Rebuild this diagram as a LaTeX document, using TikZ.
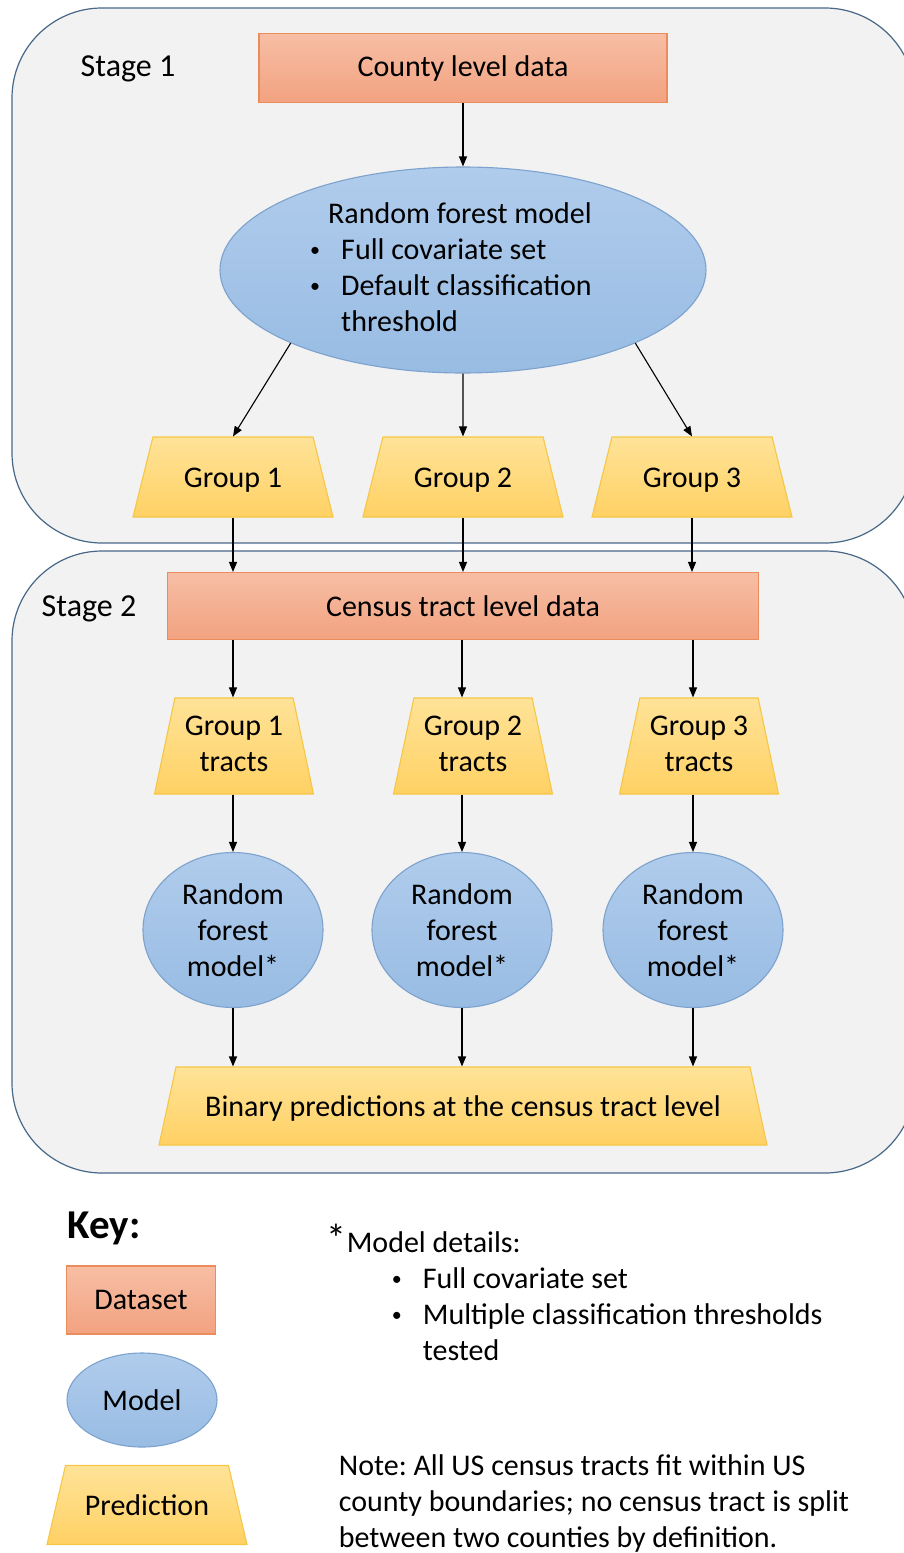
\documentclass[tikz,border=0pt]{standalone}
\usepackage{fontspec}
\setmainfont{Carlito}
\usetikzlibrary{shapes.geometric,arrows.meta,positioning}
\definecolor{stageline}{RGB}{72,104,136}
\definecolor{stagefill}{RGB}{242,242,242}
\definecolor{dataline}{RGB}{236,140,92}
\definecolor{datatop}{RGB}{247,190,165}
\definecolor{databot}{RGB}{242,162,128}
\definecolor{modelline}{RGB}{125,162,205}
\definecolor{modeltop}{RGB}{176,204,236}
\definecolor{modelbot}{RGB}{152,188,227}
\definecolor{predline}{RGB}{246,198,70}
\definecolor{predtop}{RGB}{255,227,152}
\definecolor{predbot}{RGB}{255,209,100}
\newcommand{\smalldot}{\raisebox{3pt}{\fontsize{20}{20}\selectfont\textbullet}}
\tikzset{>={Triangle[length=10pt,width=8pt]}}
\tikzset{
  stagebox/.style={draw=stageline,fill=stagefill,line width=1.2pt,rounded corners=90pt},
  dataset/.style={draw=dataline,top color=datatop,bottom color=databot,inner sep=0pt},
  model/.style={ellipse,draw=modelline,top color=modeltop,bottom color=modelbot,inner sep=0pt},
  predict/.style={trapezium,trapezium stretches body,trapezium left angle=#1,trapezium right angle=#1,draw=predline,top color=predtop,bottom color=predbot,inner xsep=0pt},
  predict/.default=76,
  oneline/.style={text height=20pt,text depth=0pt},
}

\begin{document}
\begin{tikzpicture}[x=1pt,y=-1pt,font=\fontsize{30}{36}\selectfont\frenchspacing,align=center,line width=1.1pt]
\useasboundingbox (0,0) rectangle (904,1553);
\begin{scope}
\clip (0,0) rectangle (904,1553);
\draw[stagebox] (12,8) rectangle (915,543);
\draw[stagebox] (12,551) rectangle (915,1173);
\end{scope}
\node[font=\fontsize{32}{36}\selectfont] (s1) at (128,69) {Stage 1};
\node[font=\fontsize{32}{36}\selectfont] (s2) at (89,609) {Stage 2};
\node[dataset,minimum width=408pt,minimum height=69pt] (county) at (463,68) {County level data};
\node[model,minimum width=486pt,minimum height=206pt] (rf) at (463,270) {\begin{tabular}{@{}p{31pt}@{}l@{}}\multicolumn{2}{@{}r@{}}{Random forest model}\\ \smalldot & Full covariate set\\ \smalldot & Default classification\\ & threshold\end{tabular}\hspace{24pt}};
\node[predict,oneline,inner ysep=30pt,minimum width=200pt] (g1) at (233,477) {Group 1};
\node[predict,oneline,inner ysep=30pt,minimum width=200pt] (g2) at (463,477) {Group 2};
\node[predict,oneline,inner ysep=30pt,minimum width=200pt] (g3) at (692,477) {Group 3};
\node[dataset,minimum width=591pt,minimum height=67pt] (tract) at (463,606) {Census tract level data};
\node[predict=78,inner ysep=12pt,minimum width=159pt] (t1) at (234,746) {\begin{tabular}{@{}c@{}}Group 1\\tracts\end{tabular}};
\node[predict=78,inner ysep=12pt,minimum width=159pt] (t2) at (473,746) {\begin{tabular}{@{}c@{}}Group 2\\tracts\end{tabular}};
\node[predict=78,inner ysep=12pt,minimum width=159pt] (t3) at (699,746) {\begin{tabular}{@{}c@{}}Group 3\\tracts\end{tabular}};
\node[model,minimum width=180pt,minimum height=155pt] (m1) at (233,930) {Random\\forest\\model*};
\node[model,minimum width=180pt,minimum height=155pt] (m2) at (462,930) {Random\\forest\\model*};
\node[model,minimum width=180pt,minimum height=155pt] (m3) at (693,930) {Random\\forest\\model*};
\node[predict=77.7,oneline,inner ysep=29pt,minimum width=608pt] (bin) at (463,1106) {Binary predictions at the census tract level};
\draw[->] (county) -- (rf);
\draw[->] (rf.-157) -- (g1.north);
\draw[->] (rf.south) -- (g2.north);
\draw[->] (rf.-23) -- (g3.north);
\draw[->] (g1.south) -- (g1.south |- tract.north);
\draw[->] (g2.south) -- (g2.south |- tract.north);
\draw[->] (g3.south) -- (g3.south |- tract.north);
\draw[->] (m1 |- tract.south) -- (m1 |- t1.north);
\draw[->] (m2 |- tract.south) -- (m2 |- t2.north);
\draw[->] (m3 |- tract.south) -- (m3 |- t3.north);
\draw[->] (m1 |- t1.south) -- (m1.north);
\draw[->] (m2 |- t2.south) -- (m2.north);
\draw[->] (m3 |- t3.south) -- (m3.north);
\draw[->] (m1.south) -- (m1 |- bin.north);
\draw[->] (m2.south) -- (m2 |- bin.north);
\draw[->] (m3.south) -- (m3 |- bin.north);
\node[font=\fontsize{41}{44}\selectfont\bfseries] (key) at (104,1228) {Key:};
\node[dataset,minimum width=149pt,minimum height=68pt] (kdata) at (141,1300) {Dataset};
\node[model,minimum width=150pt,minimum height=94pt] (kmodel) at (142,1400) {Model};
\node[predict=76.8,oneline,inner ysep=29.5pt,minimum width=200pt] (kpred) at (147,1505) {Prediction};
\node[anchor=west,align=left] (details) at (323,1292) {{\fontsize{40}{36}\selectfont*}Model details:\\ \hspace*{65pt}\makebox[31pt][l]{\smalldot}Full covariate set\\ \hspace*{65pt}\makebox[31pt][l]{\smalldot}Multiple classification thresholds\\ \hspace*{96pt}tested};
\node[anchor=west,align=left] (note) at (335,1503) {Note: All US census tracts fit within US\\county boundaries; no census tract is split\\between two counties by definition.};
\end{tikzpicture}
\end{document}
